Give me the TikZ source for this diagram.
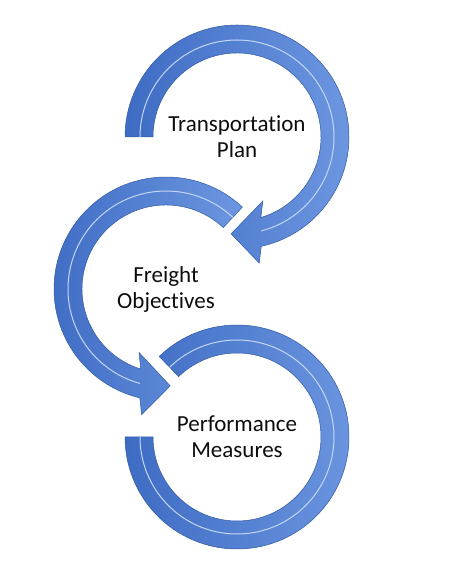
\documentclass[tikz,border=0pt]{standalone}
\usepackage{fontspec}
\setmainfont{Carlito}[Ligatures={NoCommon}]

\definecolor{ringDark}{RGB}{62,108,196}
\definecolor{ringLight}{RGB}{108,150,224}
\definecolor{ringEdge}{RGB}{50,90,160}
\definecolor{ringShine}{RGB}{196,214,246}

\tikzset{
  ring arrow/.style={left color=ringDark, right color=ringLight,
    draw=ringEdge, line width=0.5pt, line join=miter},
  ring shine/.style={draw=ringShine, line width=1pt},
  ring label/.style={align=center, inner sep=0pt, text=black!95,
    font=\fontsize{23}{26}\selectfont}
}

\begin{document}
\begin{tikzpicture}[x=1pt,y=1pt]
  \useasboundingbox (0,0) rectangle (450,581);

  \node (transportPlan) [ring label] at (237,444) {Transportation\\Plan};
  \node (freightObjectives) [ring label] at (166,292) {Freight\\Objectives};
  \node (performanceMeasures) [ring label] at (237,144) {Performance\\Measures};

  % top ring, clockwise, head at the bottom
  \begin{scope}[shift={(transportPlan.center)}]
    \draw[ring arrow] (180:112) arc[start angle=180, end angle=-77.5, radius=112pt]
      -- (-80:128) -- (-93.5:97) -- (-68:69) -- (-73.5:84)
      arc[start angle=-73.5, end angle=180, radius=84pt] -- cycle;
    \draw[ring shine] (180:97) arc[start angle=180, end angle=-75.5, radius=97pt];
  \end{scope}

  % middle ring, counterclockwise
  \begin{scope}[shift={(freightObjectives.center)}]
    \draw[ring arrow] (47:112) arc[start angle=47, end angle=256.5, radius=112pt]
      -- (259:128) -- (272.5:97) -- (247:69) -- (252.5:84)
      arc[start angle=252.5, end angle=47, radius=84pt] -- cycle;
    \draw[ring shine] (47:98) arc[start angle=47, end angle=254.5, radius=98pt];
  \end{scope}

  % bottom ring, no head
  \begin{scope}[shift={(performanceMeasures.center)}]
    \draw[ring arrow] (134:112) arc[start angle=134, end angle=-180, radius=112pt]
      -- (-180:84) arc[start angle=-180, end angle=134, radius=84pt] -- cycle;
    \draw[ring shine] (134:97) arc[start angle=134, end angle=-180, radius=97pt];
  \end{scope}
\end{tikzpicture}
\end{document}
